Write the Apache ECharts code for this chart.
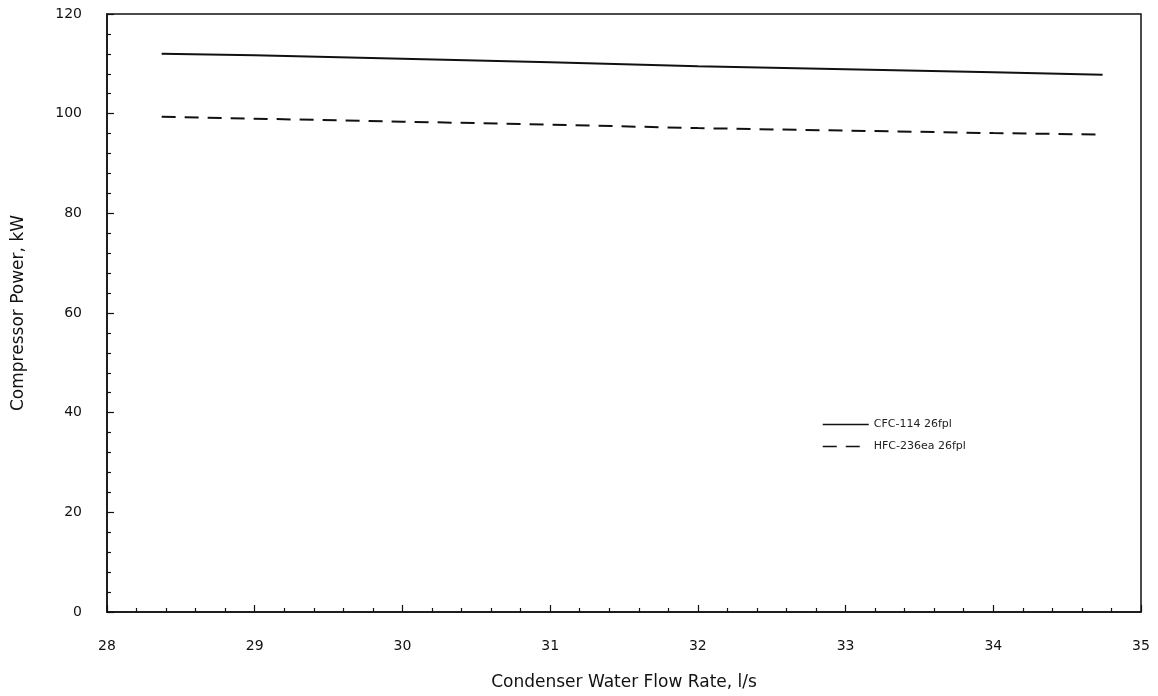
<!DOCTYPE html>
<html>
<head>
<meta charset="utf-8">
<script src="https://cdn.jsdelivr.net/npm/echarts@6/dist/echarts.min.js"></script>
<style>
  html, body { margin: 0; padding: 0; background: #fff; }
  #chart { width: 1158px; height: 696px; }
</style>
</head>
<body>
<div id="chart"></div>
<script>
// Condenser water flow rate, l/s
const flowRate = [28.37, 29.0, 30.0, 31.0, 32.0, 33.0, 34.0, 34.74];
// Compressor power, kW
const cfc114 = [112.0, 111.7, 111.0, 110.3, 109.5, 108.9, 108.3, 107.8];
const hfc236ea = [99.4, 99.0, 98.4, 97.8, 97.1, 96.6, 96.1, 95.8];
const seriesNames = ['CFC-114 26fpl', 'HFC-236ea 26fpl'];

const font = 'DejaVu Sans, Liberation Sans, Arial, sans-serif';
const toPairs = ys => flowRate.map((x, i) => [x, ys[i]]);

const chart = echarts.init(document.getElementById('chart'), null, { renderer: 'canvas' });
chart.setOption({
  animation: false,
  backgroundColor: '#fff',
  grid: {
    left: 107, right: 17, top: 14, bottom: 84,
    outerBoundsMode: 'none',
    containLabel: false,
    show: true, borderColor: '#111', borderWidth: 1.5, backgroundColor: 'transparent'
  },
  legend: {
    orient: 'vertical',
    left: 822, top: 419, padding: 0,
    itemWidth: 46, itemHeight: 12, itemGap: 11,
    itemStyle: { opacity: 0 },
    lineStyle: { width: 1.5 },
    textStyle: { fontFamily: font, fontSize: 11, color: '#222' },
    data: seriesNames
  },
  xAxis: {
    type: 'value', min: 28, max: 35, interval: 1,
    name: 'Condenser Water Flow Rate, l/s',
    nameLocation: 'middle', nameGap: 62,
    nameTextStyle: { fontFamily: font, fontSize: 17, color: '#111' },
    axisLine: { lineStyle: { color: '#111', width: 1.5 } },
    axisTick: { inside: true, length: 7, lineStyle: { color: '#111', width: 1.2 } },
    minorTick: { show: true, splitNumber: 5, length: 4, lineStyle: { color: '#111', width: 1.2 } },
    axisLabel: { fontFamily: font, fontSize: 14, color: '#111', margin: 27 },
    splitLine: { show: false }
  },
  yAxis: {
    type: 'value', min: 0, max: 120, interval: 20,
    name: 'Compressor Power, kW',
    nameLocation: 'middle', nameGap: 80,
    nameTextStyle: { fontFamily: font, fontSize: 17, color: '#111' },
    axisLine: { show: true, lineStyle: { color: '#111', width: 1.5 } },
    axisTick: { show: true, inside: true, length: 7, lineStyle: { color: '#111', width: 1.2 } },
    minorTick: { show: true, splitNumber: 5, length: 4, lineStyle: { color: '#111', width: 1.2 } },
    axisLabel: { fontFamily: font, fontSize: 14, color: '#111', margin: 25 },
    splitLine: { show: false }
  },
  series: [
    {
      name: seriesNames[0], type: 'line', data: toPairs(cfc114),
      showSymbol: false, symbol: 'none',
      lineStyle: { color: '#111', width: 2 },
      itemStyle: { color: '#111' }
    },
    {
      name: seriesNames[1], type: 'line', data: toPairs(hfc236ea),
      showSymbol: false, symbol: 'none',
      lineStyle: { color: '#111', width: 2, type: [14, 9] },
      itemStyle: { color: '#111' }
    }
  ]
});
</script>
</body>
</html>
